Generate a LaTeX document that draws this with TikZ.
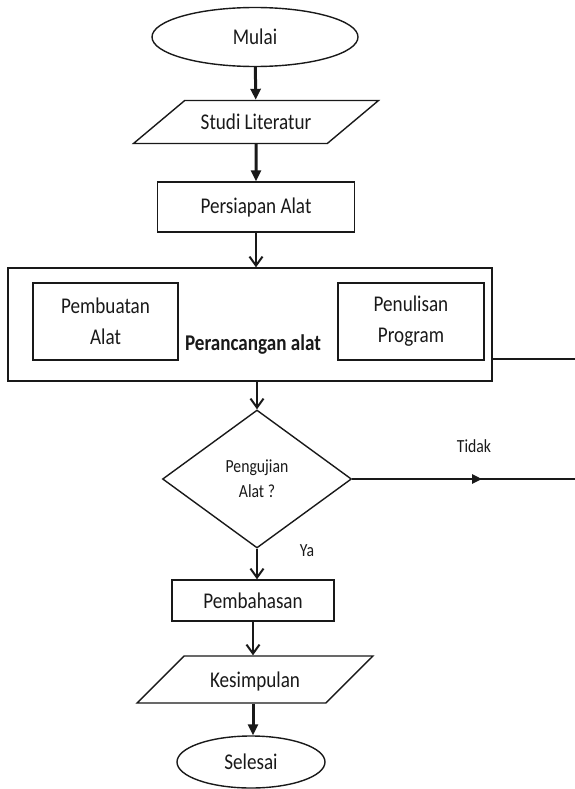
\documentclass[tikz,border=0pt]{standalone}
\usepackage{fontspec}
\setmainfont{Carlito}[FakeStretch=0.85]
\usetikzlibrary{arrows.meta,shapes.geometric}
\definecolor{LineClr}{rgb}{0.1,0.1,0.1}
\definecolor{TextClr}{rgb}{0.1,0.1,0.1}

\begin{document}
\begin{tikzpicture}[x=1pt,y=-1pt,
  font=\fontsize{22.5}{31}\selectfont,
  every node/.style={text=TextClr},
  kotak/.style={draw=LineClr,line width=1.4pt,rectangle,align=center,inner sep=0pt},
  awal/.style={draw=LineClr,line width=1.4pt,ellipse,inner sep=0pt},
  miring/.style={draw=LineClr,line width=1.4pt,trapezium,text height=15pt,text depth=0pt,inner ysep=14pt},
  pilih/.style={draw=LineClr,line width=1.4pt,diamond,inner sep=0pt,align=center},
  tebal/.style={-{Triangle[length=11pt,width=10pt]},line width=3pt,draw=LineClr},
  tipis/.style={-{Straight Barb[length=9pt,width=13pt,line width=2pt]},line width=2pt,draw=LineClr},
  garis/.style={line width=1.4pt,draw=LineClr},
  kecil/.style={font=\fontsize{18.5}{25}\selectfont}]
\useasboundingbox (0,0) rectangle (575,789);

\node[awal,minimum width=206pt,minimum height=59pt] (mulai) at (255,37) {Mulai};
\node[miring,trapezium left angle=40,trapezium right angle=140,inner xsep=16pt] (studi) at (256,122) {Studi Literatur};
\node[kotak,minimum width=197pt,minimum height=50pt] (siap) at (256,207) {Persiapan Alat};

\node[kotak,minimum width=484pt,minimum height=113pt] (rancang) at (250,324.5) {};
\node[kotak,minimum width=145pt,minimum height=77pt] (buat) at (105.5,321.5) {Pembuatan\\Alat};
\node[kotak,minimum width=146pt,minimum height=77pt] (tulis) at (411,321.5) {Penulisan\\Program};
\node[font=\fontsize{22.5}{31}\selectfont\bfseries,anchor=base] (judul) at (253,350) {Perancangan alat};

\node[pilih,kecil,minimum width=189pt,minimum height=138pt] (uji) at (257,479) {Pengujian\\Alat ?};
\node[kecil,anchor=base] (tidak) at (474,452) {Tidak};
\node[kecil,anchor=base] (ya) at (307,556) {Ya};

\node[kotak,minimum width=162pt,minimum height=41pt] (bahas) at (253,600.5) {Pembahasan};
\node[miring,trapezium left angle=45,trapezium right angle=135,inner ysep=16pt,inner xsep=26pt] (simpul) at (255,679.5) {Kesimpulan};
\node[awal,minimum width=148pt,minimum height=52pt] (selesai) at (251,762) {Selesai};

\coordinate (balik) at (575,359);
\coordinate (keluar) at (575,479);
\coordinate (panahA) at (417,479);
\coordinate (panahB) at (482,479);

\draw[tebal] (mulai) -- (studi);
\draw[tebal] (studi) -- (siap);
\draw[tipis] (siap) -- (siap.south |- rancang.north);
\draw[tipis] (uji.north |- rancang.south) -- (uji);
\draw[tipis] (uji.south) -- (uji.south |- bahas.north);
\draw[tipis] (bahas.south) -- (bahas.south |- simpul.north);
\draw[tebal] (bahas.south |- simpul.south) -- (bahas.south |- selesai.north);

\draw[garis] (balik -| rancang.east) -- (balik);
\draw[garis] (uji) -- (keluar);
\draw[-{Triangle[length=10pt,width=9pt]},line width=2.6pt,draw=LineClr] (panahA) -- (panahB);

\end{tikzpicture}
\end{document}
